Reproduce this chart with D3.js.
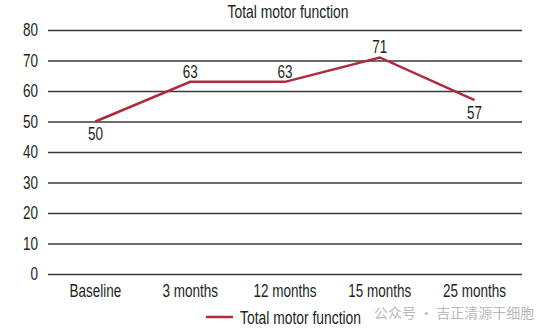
<!DOCTYPE html>
<html><head><meta charset="utf-8">
<script src="https://cdn.jsdelivr.net/npm/d3@7"></script>
<style>
body{margin:0;background:#fff;}
text{font-family:"Liberation Sans",Arial,sans-serif;fill:#231f20;}
</style></head>
<body><svg id="c" width="554" height="331"></svg>
<script>
const categories = ["Baseline","3 months","12 months","15 months","25 months"];
const values = [50, 63, 63, 71, 57];
const labelPos = ["below","above","above","above","below"];
const yTicks = [0,10,20,30,40,50,60,70,80];
const seriesName = "Total motor function";
const title = "Total motor function";

const svg = d3.select("#c");
const mLeft = 48, mRight = 522, mTop = 30, mBottom = 274;
const x = d3.scaleBand().domain(categories).range([mLeft, mRight]);
const y = d3.scaleLinear().domain([0, 80]).range([mBottom, mTop]);
const color = "#b02a3e";
const squeeze = 0.75;
// horizontally condense text around its anchor x
function condense(sel){
  sel.each(function(){
    const ax = +(this.getAttribute("x") || 0);
    d3.select(this).attr("transform", `translate(${ax*(1-squeeze)},0) scale(${squeeze},1)`);
  });
}

svg.append("text").attr("x", 288).attr("y", 18).attr("text-anchor","middle")
  .style("font-size","18.5px").text(title).call(condense);

const yAxis = d3.axisLeft(y).tickValues(yTicks).tickSize(-(mRight-mLeft)).tickPadding(10);
const gy = svg.append("g").attr("transform",`translate(${mLeft},0)`).call(yAxis);
gy.select(".domain").remove();
gy.selectAll(".tick line").attr("stroke","#3a3a3a").attr("stroke-width",1.6);
gy.selectAll(".tick text").style("font-size","18px").style("font-family","'Liberation Sans',Arial,sans-serif").attr("fill","#231f20").call(condense);

const xAxis = d3.axisBottom(x).tickSize(0).tickPadding(10);
const gx = svg.append("g").attr("transform",`translate(0,${mBottom})`).call(xAxis);
gx.select(".domain").remove();
gx.selectAll(".tick text").style("font-size","18px").style("font-family","'Liberation Sans',Arial,sans-serif").attr("fill","#231f20").call(condense);

const cx = d => x(d) + x.bandwidth()/2;
const line = d3.line().x((d,i)=>cx(categories[i])).y(d=>y(d));
svg.append("path").datum(values).attr("d", line).attr("fill","none")
  .attr("stroke", color).attr("stroke-width", 2.5);

svg.selectAll(".lbl").data(values).enter().append("text")
  .attr("x",(d,i)=>cx(categories[i]))
  .attr("y",(d,i)=> labelPos[i]==="above" ? y(d)-4 : y(d)+19)
  .attr("text-anchor","middle").style("font-size","18px").text(d=>d).call(condense);

// legend
svg.append("line").attr("x1",206).attr("x2",233).attr("y1",317).attr("y2",317)
  .attr("stroke",color).attr("stroke-width",2.5);
svg.append("text").attr("x",240).attr("y",324).style("font-size","18.5px").text(seriesName).call(condense);

// watermark
svg.append("text").attr("x",374).attr("y",318)
  .style("font-family","'Noto Sans CJK SC',sans-serif").style("font-size","14px")
  .style("fill","#a8a8a8").attr("opacity",0.8).text("公众号 · 吉正清源干细胞");
</script></body></html>
